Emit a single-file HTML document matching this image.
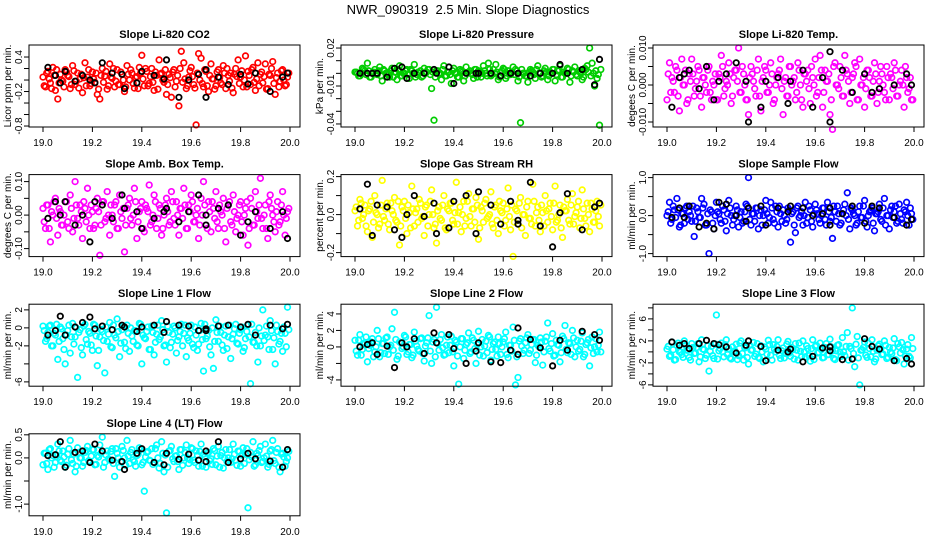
<!DOCTYPE html>
<html><head><meta charset="utf-8">
<style>
html,body{margin:0;padding:0;background:#fff;}
svg{display:block;font-family:"Liberation Sans",Arial,sans-serif;}
</style></head>
<body>
<svg id="chart" width="936" height="540" viewBox="0 0 936 540">
<text x="468" y="14" text-anchor="middle" font-size="13">NWR_090319&#160; 2.5 Min. Slope Diagnostics</text>
</svg>
<script>
// shared time axes
const times = [19.00,19.01,19.02,19.03,19.04,19.05,19.06,19.07,19.08,19.09,19.10,19.11,19.12,19.13,19.14,19.15,19.16,19.17,19.18,19.19,19.20,19.21,19.22,19.23,19.24,19.25,19.26,19.27,19.28,19.29,19.30,19.31,19.32,19.33,19.34,19.35,19.36,19.37,19.38,19.39,19.40,19.41,19.42,19.43,19.44,19.45,19.46,19.47,19.48,19.49,19.50,19.51,19.52,19.53,19.54,19.55,19.56,19.57,19.58,19.59,19.60,19.61,19.62,19.63,19.64,19.65,19.66,19.67,19.68,19.69,19.70,19.71,19.72,19.73,19.74,19.75,19.76,19.77,19.78,19.79,19.80,19.81,19.82,19.83,19.84,19.85,19.86,19.87,19.88,19.89,19.90,19.91,19.92,19.93,19.94,19.95,19.96,19.97,19.98,19.99];
const times2 = [19.005,19.015,19.025,19.035,19.045,19.055,19.065,19.075,19.085,19.095,19.105,19.115,19.125,19.135,19.145,19.155,19.165,19.175,19.185,19.195,19.205,19.215,19.225,19.235,19.245,19.255,19.265,19.275,19.285,19.295,19.305,19.315,19.325,19.335,19.345,19.355,19.365,19.375,19.385,19.395,19.405,19.415,19.425,19.435,19.445,19.455,19.465,19.475,19.485,19.495,19.505,19.515,19.525,19.535,19.545,19.555,19.565,19.575,19.585,19.595,19.605,19.615,19.625,19.635,19.645,19.655,19.665,19.675,19.685,19.695,19.705,19.715,19.725,19.735,19.745,19.755,19.765,19.775,19.785,19.795,19.805,19.815,19.825,19.835,19.845,19.855,19.865,19.875,19.885,19.895,19.905,19.915,19.925,19.935,19.945,19.955,19.965,19.975,19.985,19.995];
const blackTimes = [19.02,19.05,19.07,19.09,19.13,19.16,19.19,19.21,19.24,19.28,19.32,19.33,19.38,19.40,19.45,19.49,19.50,19.55,19.59,19.63,19.66,19.66,19.71,19.75,19.80,19.83,19.86,19.92,19.97,19.99];
const xTicks = [19.0,19.2,19.4,19.6,19.8,20.0];
const xTickLabels = ["19.0","19.2","19.4","19.6","19.8","20.0"];

const co2Vals = [0.05,-0.12,0.15,-0.05,0.22,-0.18,-0.33,0.10,-0.02,0.18,0.08,-0.15,0.25,-0.08,0.12,0.02,-0.22,0.30,0.05,-0.10,0.14,-0.04,-0.25,-0.33,0.20,0.07,-0.16,0.28,0.03,-0.12,0.18,-0.08,0.10,-0.20,0.25,0.00,0.12,-0.14,0.06,0.22,0.43,-0.10,0.15,-0.06,0.20,-0.18,0.08,0.35,0.12,-0.04,-0.25,0.10,-0.30,0.18,-0.02,-0.45,0.50,0.30,-0.15,0.05,0.22,-0.08,-0.78,0.46,0.38,-0.12,0.15,-0.20,0.28,0.02,-0.10,0.18,-0.05,0.25,-0.15,0.08,0.12,-0.22,0.20,0.35,0.05,-0.12,0.42,0.15,-0.08,0.22,-0.18,0.30,0.10,-0.05,0.28,-0.15,0.08,0.32,-0.25,0.12,-0.02,0.18,-0.10,0.05];
const co2Vals2 = [-0.10,0.12,0.02,-0.15,0.08,0.18,-0.05,0.00,-0.12,0.14,0.06,-0.08,0.16,-0.02,-0.14,0.10,0.04,-0.10,0.18,-0.06,0.02,0.12,-0.16,0.08,-0.04,0.15,-0.10,0.05,0.20,-0.02,-0.08,0.14,0.00,-0.12,0.10,0.18,-0.06,0.04,-0.15,0.12,0.02,0.20,-0.10,0.06,-0.04,0.14,-0.16,0.10,0.00,0.18,-0.08,0.04,0.14,-0.12,0.08,0.20,-0.04,0.02,-0.10,0.16,0.06,-0.14,0.12,0.00,-0.06,0.18,-0.10,0.08,0.02,-0.16,0.14,0.04,-0.08,0.12,0.20,-0.02,-0.14,0.10,0.06,-0.06,0.16,0.00,-0.12,0.08,0.18,-0.04,0.02,-0.10,0.14,0.06,-0.16,0.10,0.20,-0.06,0.04,-0.12,0.16,0.00,-0.08,0.12];
const co2Black = [0.22,0.08,-0.05,0.15,-0.02,0.08,0.00,-0.05,0.30,0.12,0.10,-0.15,-0.05,0.15,0.08,0.02,0.35,-0.30,0.00,0.10,0.18,-0.30,0.05,-0.08,0.10,-0.07,0.12,-0.20,0.05,0.12];
const pressVals = [0.001,0.000,-0.002,0.004,0.002,0.008,-0.003,0.000,0.003,-0.001,0.005,-0.006,0.002,0.000,-0.003,0.004,0.001,-0.005,0.006,-0.002,0.000,0.003,-0.004,0.002,0.007,-0.001,0.000,-0.003,0.004,0.001,0.003,-0.012,-0.037,0.002,0.000,-0.005,0.006,-0.002,0.001,-0.008,0.004,0.000,-0.003,0.002,-0.006,0.005,0.001,0.000,-0.004,0.003,0.002,-0.003,0.006,0.000,0.008,-0.002,0.003,0.007,-0.005,0.001,0.004,-0.004,0.002,-0.001,0.005,0.003,-0.006,-0.039,0.000,-0.002,-0.007,0.003,0.001,-0.004,0.006,0.000,-0.002,0.004,-0.005,0.001,0.003,-0.006,0.002,0.006,-0.003,0.000,0.004,-0.007,0.002,0.005,-0.002,0.001,-0.005,0.004,0.006,0.020,0.008,-0.010,-0.004,-0.041];
const pressVals2 = [0.001,-0.002,0.000,0.003,-0.001,0.002,-0.003,0.001,0.000,0.002,-0.002,0.003,0.000,-0.001,0.002,-0.003,0.001,0.003,-0.002,0.000,0.002,-0.001,0.003,0.000,-0.003,0.001,0.002,-0.002,0.000,0.003,-0.001,0.001,-0.003,0.002,0.000,0.003,-0.002,0.001,-0.001,0.002,0.000,-0.003,0.003,0.001,-0.002,0.000,0.002,-0.001,0.003,-0.003,0.001,0.000,0.002,-0.002,0.003,-0.001,0.000,0.001,-0.003,0.002,0.003,-0.002,0.000,0.001,-0.001,0.002,-0.003,0.003,0.000,-0.002,0.001,0.002,-0.001,0.003,0.000,-0.003,0.002,0.001,-0.002,0.000,0.003,-0.001,0.002,-0.003,0.001,0.000,0.003,-0.002,0.001,-0.001,0.002,0.000,-0.003,0.003,0.001,-0.002,0.000,0.002,-0.001,0.003];
const pressBlack = [0.000,0.000,0.000,0.000,-0.003,0.004,0.005,-0.004,0.000,0.000,0.003,0.000,0.005,-0.008,0.000,0.000,0.000,0.000,-0.002,0.000,0.000,0.000,-0.002,0.000,0.000,0.007,0.000,0.003,-0.009,0.011];
const tempVals = [-0.004,0.006,0.002,-0.002,0.004,-0.007,0.007,0.000,-0.005,0.003,0.007,-0.003,0.001,0.004,-0.006,0.002,-0.002,0.005,-0.004,0.000,-0.004,0.003,0.008,-0.003,0.001,0.006,-0.005,0.002,0.004,0.010,-0.002,0.003,-0.004,-0.008,0.005,0.001,-0.003,0.007,-0.007,0.002,0.004,-0.002,0.006,-0.005,0.000,0.003,0.007,-0.008,0.002,-0.003,0.005,0.001,-0.004,0.006,0.000,-0.006,0.003,0.004,-0.005,0.002,0.007,-0.002,0.008,-0.006,0.004,0.001,-0.008,-0.012,0.006,0.000,0.005,-0.003,0.008,0.003,-0.005,0.002,0.006,-0.004,0.007,0.000,-0.006,0.004,0.002,-0.003,0.006,-0.005,0.001,0.003,-0.002,0.005,-0.004,0.002,0.006,-0.003,0.000,0.004,-0.006,0.002,-0.001,-0.004];
const tempVals2 = [0.003,-0.002,0.001,0.005,-0.003,0.002,0.000,0.004,-0.004,0.001,0.003,-0.001,0.005,-0.003,0.002,0.000,0.004,-0.002,0.001,0.003,-0.004,0.002,0.005,-0.001,0.000,0.003,-0.003,0.004,0.001,-0.002,0.005,0.000,-0.004,0.002,0.003,-0.001,0.004,-0.003,0.001,0.005,-0.002,0.000,0.003,-0.004,0.002,0.004,-0.001,0.001,-0.003,0.005,0.000,0.002,-0.002,0.004,-0.004,0.003,0.001,-0.001,0.005,0.000,-0.003,0.002,0.004,-0.002,0.001,0.003,-0.004,0.005,0.000,-0.001,0.002,-0.003,0.004,0.001,-0.002,0.003,0.005,-0.004,0.000,0.002,-0.001,0.004,-0.003,0.001,0.003,-0.002,0.005,0.000,-0.004,0.002,0.003,-0.001,0.004,-0.003,0.001,0.000,0.005,-0.002,0.002,-0.004];
const tempBlack = [-0.006,0.002,0.003,0.004,-0.001,0.005,-0.004,0.001,0.003,0.006,0.001,-0.010,-0.006,0.001,0.002,-0.005,0.001,0.004,-0.006,0.002,0.009,-0.010,0.004,-0.002,0.003,-0.002,-0.001,0.000,0.003,0.000];
const ambVals = [0.02,-0.04,0.03,-0.08,0.00,0.05,-0.06,0.01,-0.03,0.04,-0.02,0.06,-0.05,0.10,-0.01,0.03,-0.07,0.02,0.08,-0.04,0.01,-0.03,0.05,-0.12,0.04,-0.02,0.07,-0.06,0.00,0.03,-0.04,0.06,-0.01,-0.11,0.02,0.05,-0.03,0.08,-0.07,0.01,0.04,-0.05,0.02,0.09,-0.02,0.06,-0.04,0.03,-0.06,0.00,0.05,-0.03,0.07,-0.01,0.04,-0.06,0.02,0.08,-0.04,0.03,0.06,-0.02,0.00,-0.07,0.05,0.10,-0.03,0.04,-0.05,0.02,0.07,-0.04,0.01,0.05,-0.08,0.03,-0.02,0.06,-0.05,0.00,0.04,-0.06,0.02,-0.09,0.05,-0.03,0.07,-0.01,0.11,-0.04,0.03,-0.07,0.06,0.00,-0.05,0.04,-0.02,0.07,-0.06,0.01];
const ambVals2 = [-0.02,0.03,-0.04,0.01,0.04,-0.01,0.02,-0.03,0.00,0.04,-0.04,0.02,-0.01,0.03,-0.03,0.01,0.04,-0.02,0.00,0.03,-0.04,0.02,0.01,-0.03,0.04,-0.01,0.00,0.03,-0.02,0.04,-0.04,0.01,0.02,-0.03,0.03,-0.01,0.00,0.04,-0.02,0.02,-0.04,0.03,0.01,-0.03,0.00,0.04,-0.01,0.02,-0.04,0.03,0.01,-0.02,0.04,-0.03,0.00,0.02,-0.01,0.03,-0.04,0.01,0.04,-0.02,0.02,-0.03,0.00,0.03,-0.04,0.01,0.04,-0.01,-0.02,0.03,0.00,-0.04,0.02,0.04,-0.03,0.01,-0.01,0.03,-0.02,0.00,0.04,-0.04,0.02,-0.03,0.01,0.03,-0.01,0.00,-0.04,0.04,0.02,-0.02,0.01,-0.03,0.03,0.00,-0.01,0.02];
const ambBlack = [-0.01,0.04,0.00,0.04,-0.03,0.00,-0.08,0.04,0.03,-0.01,0.06,0.02,0.01,-0.04,-0.01,0.01,0.02,-0.02,0.01,0.06,0.00,-0.03,0.02,0.03,-0.06,-0.02,0.01,-0.04,0.01,-0.07];
const rhVals = [0.02,-0.06,0.08,-0.02,0.05,-0.09,0.03,-0.12,0.10,0.00,-0.05,0.18,-0.03,0.06,-0.08,0.02,0.09,-0.04,-0.16,0.04,0.07,-0.10,0.01,0.15,-0.06,0.03,0.08,-0.02,-0.11,0.05,0.00,0.13,-0.07,-0.15,0.04,-0.03,0.10,-0.08,0.02,0.06,-0.05,0.17,0.01,-0.09,0.07,-0.02,0.11,-0.06,0.03,0.09,-0.13,0.04,-0.04,0.08,-0.01,0.12,-0.07,0.05,-0.10,0.02,0.06,-0.03,0.14,-0.08,-0.22,0.03,-0.05,0.09,0.00,-0.11,0.07,-0.02,0.16,-0.06,0.04,-0.09,0.01,0.10,-0.04,0.06,-0.08,0.15,-0.03,0.05,-0.12,0.02,0.08,-0.05,0.11,-0.01,0.04,-0.07,0.13,-0.02,0.06,-0.09,0.03,-0.04,0.07,-0.06];
const rhVals2 = [0.04,-0.03,0.06,0.00,-0.06,0.02,0.07,-0.04,0.01,-0.07,0.05,-0.01,0.03,-0.05,0.06,0.00,-0.03,0.07,-0.06,0.02,-0.02,0.05,-0.07,0.03,0.01,-0.04,0.06,-0.01,0.04,-0.06,0.07,0.00,-0.05,0.02,-0.02,0.05,-0.07,0.03,0.06,-0.03,0.01,-0.05,0.04,0.00,-0.06,0.07,-0.01,0.03,-0.04,0.05,-0.07,0.02,0.06,-0.02,0.00,-0.05,0.04,-0.03,0.07,0.01,-0.06,0.03,-0.01,0.05,-0.04,0.02,0.06,-0.07,0.00,0.04,-0.02,-0.05,0.07,0.01,-0.03,0.05,-0.06,0.02,0.03,-0.01,0.06,-0.04,0.00,-0.07,0.04,0.02,-0.03,0.05,-0.05,0.01,0.07,-0.02,0.03,-0.06,0.00,0.06,-0.04,0.02,-0.01,0.05];
const rhBlack = [0.03,0.16,-0.11,0.05,0.04,-0.08,-0.12,0.00,0.10,-0.01,0.06,-0.10,-0.07,0.07,0.10,-0.10,0.12,0.05,-0.05,0.07,-0.03,-0.05,0.17,-0.06,-0.17,0.01,0.11,-0.08,0.04,0.06];
const sampleVals = [0.00,0.35,-0.10,0.15,0.45,-0.30,0.05,-0.20,0.25,0.10,-0.15,-0.55,0.20,-0.05,0.45,0.30,-0.25,-1.00,0.10,-0.35,0.35,0.05,-0.20,0.15,-0.40,0.40,0.00,-0.10,0.25,-0.30,0.10,-0.15,0.30,1.00,-0.25,0.05,0.20,-0.35,0.15,0.00,0.40,-0.20,0.35,-0.10,0.25,-0.30,0.05,0.15,-0.20,0.20,-0.70,0.10,-0.45,0.25,0.00,-0.25,0.35,-0.05,0.15,-0.30,0.30,0.05,-0.20,0.20,-0.10,0.35,-0.15,-0.60,0.10,0.25,-0.25,0.05,0.30,0.60,-0.35,0.15,0.00,-0.20,0.25,-0.05,0.40,-0.30,0.10,0.20,-0.40,0.05,0.30,-0.15,0.45,0.00,-0.35,0.25,0.10,-0.20,0.30,-0.10,0.15,0.35,-0.25,0.05];
const sampleVals2 = [0.10,-0.20,0.25,-0.05,0.15,-0.25,0.05,0.20,-0.10,0.00,0.25,-0.15,0.10,-0.05,0.20,-0.25,0.05,0.15,-0.20,0.00,0.10,-0.10,0.25,-0.15,0.05,0.20,-0.25,0.00,0.15,-0.05,-0.20,0.10,0.25,-0.10,0.05,-0.15,0.20,0.00,-0.25,0.15,0.05,-0.05,0.20,-0.20,0.10,0.25,-0.15,0.00,-0.10,0.15,0.05,-0.25,0.20,-0.05,0.10,0.00,-0.20,0.25,-0.15,0.05,0.15,-0.10,0.00,0.20,-0.25,0.10,-0.05,0.25,-0.15,0.05,-0.20,0.15,0.00,-0.10,0.20,0.05,-0.25,0.10,-0.05,0.25,-0.15,0.00,0.15,-0.20,0.05,0.10,-0.10,0.20,-0.25,0.00,0.15,-0.05,0.25,-0.15,0.05,-0.20,0.10,0.00,0.20,-0.10];
const sampleBlack = [-0.05,0.20,-0.05,0.25,-0.30,-0.20,-0.35,0.35,0.30,0.00,-0.15,0.20,0.25,-0.25,0.20,0.10,0.25,0.20,0.00,0.05,0.20,-0.25,0.05,0.25,-0.20,0.25,0.20,-0.05,-0.25,-0.10];
const line1Vals = [0.2,-1.5,-0.5,0.3,-2.0,-0.8,-3.5,0.1,-1.2,-4.0,-0.3,-2.8,0.5,-1.0,-5.5,-0.2,-3.0,0.4,-1.8,-0.6,-2.5,0.3,-4.2,-1.0,-0.4,-5.0,-1.5,0.6,-2.2,-0.8,1.0,-3.2,-0.2,-1.6,0.3,-2.6,-0.9,-0.3,-1.9,0.5,-4.0,-1.1,-0.4,-2.4,0.2,-3.0,-0.7,-1.3,0.8,-2.0,-3.8,-0.5,-1.6,0.2,-2.8,-1.0,0.4,-0.6,-3.2,-1.4,0.3,-2.2,-0.8,-1.8,0.5,-4.8,-1.2,-0.3,-3.0,-4.5,0.9,-1.5,-0.5,-2.5,0.2,-1.0,-3.4,-0.7,0.4,-1.8,-0.2,-2.6,-1.2,0.3,-6.2,-1.6,-0.5,-3.8,-2.0,2.0,-0.8,-1.0,0.8,-2.4,-4.0,-0.4,-1.5,-2.6,-0.6,2.3];
const line1Vals2 = [-0.3,-1.2,0.2,-2.0,-0.6,0.4,-1.5,-0.1,-2.4,-0.8,0.3,-1.0,-1.8,0.0,-0.5,-2.2,0.2,-1.3,-0.4,-1.9,0.4,-0.9,-2.5,-0.2,-1.4,0.1,-0.7,-2.1,0.3,-1.1,-0.4,-1.7,0.2,-2.3,-0.6,0.0,-1.5,-0.3,-2.0,0.4,-0.8,-1.2,0.1,-2.4,-0.5,-1.6,0.3,-1.0,-0.2,-1.9,0.2,-2.2,-0.7,0.0,-1.4,-0.4,-2.0,0.3,-1.1,-0.6,-1.8,0.1,-2.5,-0.3,-1.3,0.4,-0.9,-2.1,0.0,-1.5,-0.5,0.2,-1.9,-0.8,-2.3,0.3,-1.2,-0.1,-1.7,-0.6,0.1,-2.2,-0.4,-1.0,0.4,-1.6,-2.0,0.0,-0.9,-1.4,0.2,-2.4,-0.3,-1.1,0.3,-1.8,-0.6,0.1,-2.1,-0.2];
const line1Black = [-0.8,-0.3,1.3,-0.8,0.1,0.6,1.2,-0.1,0.2,-0.2,0.3,0.1,-0.4,0.1,0.3,-0.5,0.7,0.3,0.2,-0.3,-0.3,-0.1,0.2,0.3,0.1,0.4,-0.8,0.3,-0.1,0.4];
const line2Vals = [0.8,-1.0,1.5,-0.3,0.5,-1.8,0.2,1.0,-0.6,2.0,-1.2,0.4,-0.8,1.2,0.0,2.2,4.2,-1.5,0.6,-0.2,1.4,-0.9,0.3,-1.3,1.8,0.1,-0.5,1.1,-1.7,0.5,3.8,-2.0,0.9,4.8,-0.4,1.5,-1.0,0.2,-0.7,1.3,-2.3,0.6,-4.5,1.0,-1.4,0.3,1.7,-0.6,0.8,-2.0,1.9,0.0,-1.1,0.7,1.4,-1.6,0.4,-0.3,1.2,-0.9,0.6,1.8,-1.3,0.2,2.4,-4.6,-3.7,1.0,-0.8,0.5,1.5,-0.4,0.9,-1.9,0.2,1.1,-2.2,0.7,2.9,-0.5,1.6,-1.0,0.3,-1.8,1.3,2.6,-0.7,0.4,2.0,-1.2,0.8,-0.3,1.7,-0.9,0.5,-2.3,1.2,0.0,-0.6,1.8];
const line2Vals2 = [-0.5,0.8,-1.0,0.3,1.2,-0.2,0.6,-1.2,0.0,1.0,-0.7,0.4,1.1,-0.9,0.2,-0.4,0.9,-1.1,0.5,0.0,1.2,-0.6,0.3,-1.0,0.7,-0.3,1.0,-0.8,0.1,1.1,-0.5,0.6,-1.2,0.4,0.9,-0.1,-0.9,1.2,0.2,-0.6,0.8,-1.1,0.0,1.0,-0.4,0.5,-0.8,1.1,-0.2,0.3,-1.0,0.9,0.1,-0.7,1.2,-0.3,0.6,-1.1,0.4,0.0,1.0,-0.9,0.2,-0.5,0.8,-1.2,0.7,0.1,-0.4,1.1,-0.8,0.3,0.9,-1.0,0.0,0.6,-0.6,1.2,-0.2,0.4,-1.1,0.8,0.2,-0.7,1.0,-0.3,0.5,-0.9,1.1,0.0,-0.5,0.7,-1.2,0.3,0.9,-0.1,-0.8,1.0,0.2,-0.6];
const line2Black = [0.0,0.3,0.5,-0.9,0.1,-2.5,0.5,0.0,1.0,-0.8,1.7,0.5,1.5,-0.2,-2.0,-0.5,0.5,-1.8,-1.9,-0.4,2.3,-0.9,0.9,-0.1,-2.3,0.8,-0.4,1.9,1.5,0.8];
const line3Vals = [0.5,-0.8,1.8,-1.5,1.2,0.0,-0.5,2.0,0.3,-1.0,1.5,-0.3,0.8,-1.8,2.2,0.4,-0.6,-3.5,1.0,-1.2,6.7,0.2,1.6,-0.9,2.2,0.6,-1.3,0.0,1.4,-0.7,2.0,-1.5,0.9,-2.2,0.3,1.7,-0.4,-1.0,1.1,-1.8,0.5,2.1,-0.6,1.3,0.0,2.2,-1.2,0.7,-0.3,1.9,-0.8,0.4,1.5,-1.5,0.1,2.0,-0.9,0.6,-1.7,2.2,1.0,-0.2,1.6,-1.1,0.8,-0.5,2.3,0.2,-1.4,1.2,0.0,2.6,-0.7,3.5,1.0,8.0,-2.7,2.8,-6.0,0.4,1.8,-1.0,0.6,2.2,-1.8,0.3,1.4,-0.5,2.0,-1.2,0.8,-0.3,2.4,-1.6,0.9,1.7,-2.2,0.5,-0.8,2.6];
const line3Vals2 = [1.0,-0.6,0.4,-1.4,1.6,0.0,-1.0,1.2,0.3,-1.5,0.8,-0.2,1.5,-0.9,0.5,-1.2,1.1,0.1,-0.7,1.4,-1.3,0.6,0.0,1.3,-0.5,-1.1,0.9,0.2,-1.4,1.6,-0.3,0.7,-1.0,1.2,0.4,-0.8,1.5,-1.2,0.0,0.9,-0.4,1.3,-1.5,0.5,1.0,-0.6,0.2,-1.1,1.4,-0.2,0.8,-1.3,0.3,1.6,-0.9,0.0,1.1,-0.7,0.6,-1.4,1.2,-0.1,0.4,-1.0,1.5,-0.5,0.9,-1.2,0.2,1.3,-0.8,0.0,1.0,-1.5,0.6,-0.3,1.4,-1.1,0.3,0.8,-0.6,1.6,-0.9,0.1,-1.3,1.1,0.5,-0.4,1.2,-1.0,0.0,0.7,-1.4,1.5,-0.2,0.4,-0.8,1.3,-1.1,0.6];
const line3Black = [1.8,1.2,1.5,0.6,1.5,2.1,1.5,1.3,0.9,-0.2,1.2,2.0,1.0,-1.6,0.3,0.0,0.5,-1.8,-0.8,0.7,0.2,0.9,-1.4,-1.3,2.4,1.0,0.5,-1.6,-1.2,-2.2];
const line4Vals = [-0.15,0.10,-0.25,0.20,0.05,-0.10,0.30,-0.05,0.15,-0.20,0.08,0.38,-0.12,-0.30,0.22,0.00,-0.18,0.12,0.25,-0.08,0.18,-0.15,0.05,0.28,0.45,-0.10,0.15,-0.05,0.20,-0.40,0.10,-0.20,0.25,0.00,0.38,-0.12,0.18,-0.08,0.05,0.22,-0.15,-0.72,0.12,-0.05,0.20,-0.10,0.28,-0.22,0.35,-0.30,-1.19,0.15,0.25,-0.08,0.05,-0.25,0.18,0.00,0.28,-0.12,0.22,-0.05,0.15,-0.18,0.30,0.08,-0.20,0.12,-0.02,0.20,-0.15,0.25,0.05,-0.22,0.18,0.00,-0.10,0.30,-0.05,0.15,-0.18,0.22,0.08,-1.08,0.12,0.35,-0.15,0.05,0.25,-0.08,0.30,-0.20,0.15,0.38,-0.12,0.20,-0.30,0.10,-0.18,0.00];
const line4Vals2 = [0.10,-0.12,0.18,0.00,-0.20,0.06,0.15,-0.08,0.02,-0.16,0.20,-0.04,0.08,-0.18,0.12,0.00,-0.10,0.16,-0.06,0.04,0.18,-0.14,0.02,0.10,-0.20,0.06,-0.02,0.14,-0.12,0.20,0.00,-0.08,0.16,-0.16,0.04,0.12,-0.04,-0.18,0.08,0.18,-0.10,0.02,0.14,-0.06,-0.14,0.20,0.00,-0.12,0.10,0.06,-0.20,0.16,-0.02,0.04,-0.08,0.18,-0.16,0.12,0.00,-0.04,0.20,-0.10,0.06,0.14,-0.18,0.02,0.10,-0.06,-0.14,0.16,0.04,-0.20,0.12,0.00,-0.08,0.18,-0.02,0.08,-0.16,0.14,0.06,-0.12,0.20,-0.04,0.02,-0.18,0.10,0.16,-0.10,0.00,0.04,-0.14,0.18,-0.06,0.12,-0.20,0.08,0.02,-0.08,0.14];
const line4Black = [0.05,0.07,0.35,-0.20,0.12,0.15,-0.10,0.30,0.15,-0.05,-0.08,-0.25,0.10,0.20,-0.10,-0.15,0.10,-0.03,0.08,-0.05,0.15,-0.08,0.35,-0.10,-0.02,0.10,-0.02,-0.07,-0.20,0.18];

const co2Ticks=[-0.8,-0.6,-0.4,-0.2,0,0.2,0.4], co2Labels=["-0.8","","","-0.2","","","0.4"];
const pressTicks=[-0.04,-0.03,-0.02,-0.01,0,0.01,0.02], pressLabels=["-0.04","","","-0.01","","","0.02"];
const tempTicks=[-0.01,-0.005,0,0.005,0.01], tempLabels=["-0.010","","0.000","","0.010"];
const ambTicks=[-0.1,-0.05,0,0.05,0.1], ambLabels=["-0.10","","0.00","","0.10"];
const rhTicks=[-0.2,-0.1,0,0.1,0.2], rhLabels=["-0.2","","0.0","","0.2"];
const sampleTicks=[-1,-0.5,0,0.5,1], sampleLabels=["-1.0","","0.0","","1.0"];
const line1Ticks=[-6,-4,-2,0,2], line1Labels=["-6","","-2","0","2"];
const line2Ticks=[-4,-2,0,2,4], line2Labels=["-4","","0","2","4"];
const line3Ticks=[-6,-4,-2,0,2,4,6,8], line3Labels=["-6","","-2","","2","","6",""];
const line4Ticks=[-1,-0.5,0,0.5], line4Labels=["-1.0","","0.0","0.5"];

const panels = [
 {name:"co2",title:"Slope Li-820 CO2",ylab:"Licor ppm per min.",col:"#ff0000",c:0,r:0,lim:[-0.817,0.609],v:co2Vals,v2:co2Vals2,b:co2Black,t:co2Ticks,l:co2Labels},
 {name:"pressure",title:"Slope Li-820 Pressure",ylab:"kPa per min.",col:"#00cd00",c:1,r:0,lim:[-0.0424,0.0224],v:pressVals,v2:pressVals2,b:pressBlack,t:pressTicks,l:pressLabels},
 {name:"temp",title:"Slope Li-820 Temp.",ylab:"degees C per min.",col:"#ff00ff",c:2,r:0,lim:[-0.01135,0.01081],v:tempVals,v2:tempVals2,b:tempBlack,t:tempTicks,l:tempLabels},
 {name:"amb-box-temp",title:"Slope Amb. Box Temp.",ylab:"degrees C per min.",col:"#ff00ff",c:0,r:1,lim:[-0.1239,0.1209],v:ambVals,v2:ambVals2,b:ambBlack,t:ambTicks,l:ambLabels},
 {name:"gas-stream-rh",title:"Slope Gas Stream RH",ylab:"percent per min.",col:"#ffff00",c:1,r:1,lim:[-0.2211,0.2105],v:rhVals,v2:rhVals2,b:rhBlack,t:rhTicks,l:rhLabels},
 {name:"sample-flow",title:"Slope Sample Flow",ylab:"ml/min per min.",col:"#0000ff",c:2,r:1,lim:[-1.079,1.079],v:sampleVals,v2:sampleVals2,b:sampleBlack,t:sampleTicks,l:sampleLabels},
 {name:"line1-flow",title:"Slope Line 1 Flow",ylab:"ml/min per min.",col:"#00ffff",c:0,r:2,lim:[-6.48,2.63],v:line1Vals,v2:line1Vals2,b:line1Black,t:line1Ticks,l:line1Labels},
 {name:"line2-flow",title:"Slope Line 2 Flow",ylab:"ml/min per min.",col:"#00ffff",c:1,r:2,lim:[-4.76,5.18],v:line2Vals,v2:line2Vals2,b:line2Black,t:line2Ticks,l:line2Labels},
 {name:"line3-flow",title:"Slope Line 3 Flow",ylab:"ml/min per min.",col:"#00ffff",c:2,r:2,lim:[-6.24,8.67],v:line3Vals,v2:line3Vals2,b:line3Black,t:line3Ticks,l:line3Labels},
 {name:"line4-flow",title:"Slope Line 4 (LT) Flow",ylab:"ml/min per min.",col:"#00ffff",c:0,r:3,lim:[-1.253,0.522],v:line4Vals,v2:line4Vals2,b:line4Black,t:line4Ticks,l:line4Labels}
];

const NS="http://www.w3.org/2000/svg";
const svg=document.getElementById("chart");
function mk(tag,attrs,parent){const e=document.createElementNS(NS,tag);for(const k in attrs)e.setAttribute(k,attrs[k]);parent.appendChild(e);return e;}

panels.forEach(p=>{
  const x0=29+p.c*312, top=45+p.r*129.6, W=271, H=82, bottom=top+H;
  const xs=v=>x0+14+(v-19)*247;
  const ys=v=>bottom-(v-p.lim[0])/(p.lim[1]-p.lim[0])*H;
  const g=mk("g",{},svg);
  
  
  const tt=mk("text",{x:x0+W/2,y:top-7,"text-anchor":"middle","font-size":"11","font-weight":"bold"},g);
  tt.textContent=p.title;
  
  
  const yl=mk("text",{x:0,y:0,"text-anchor":"middle","font-size":"10",transform:`translate(${x0-18},${top+H/2}) rotate(-90)`},g);
  yl.textContent=p.ylab;
  
  
  const pts=mk("g",{fill:"none",stroke:p.col,"stroke-width":"1.7"},g);
  
  
  p.v2.forEach((v,i)=>{
    const c=mk("circle",{cx:xs(times2[i]).toFixed(1),cy:ys(v).toFixed(1),r:"2.8"},pts);
    
    
  });
  p.v.forEach((v,i)=>{
    const c=mk("circle",{cx:xs(times[i]).toFixed(1),cy:ys(v).toFixed(1),r:"2.8"},pts);
    
    
  });
  const bp=mk("g",{fill:"none",stroke:"#000","stroke-width":"1.8"},g);
  
  
  p.b.forEach((v,i)=>{
    const c=mk("circle",{cx:xs(blackTimes[i]).toFixed(1),cy:ys(v).toFixed(1),r:"2.7"},bp);
    
    
  });
  const box=mk("rect",{x:x0,y:top,width:W,height:H,fill:"none",stroke:"#000","stroke-width":"1"},g);
  
  
  const xa=mk("g",{stroke:"#000","stroke-width":"1"},g);
  
  
  xTicks.forEach((v,i)=>{
    mk("line",{x1:xs(v),x2:xs(v),y1:bottom,y2:bottom+5},xa);
    const t=mk("text",{x:xs(v),y:bottom+19,"text-anchor":"middle","font-size":"10",stroke:"none"},xa);
    t.textContent=xTickLabels[i];
    
    
  });
  const ya=mk("g",{stroke:"#000","stroke-width":"1"},g);
  
  
  mk("line",{x1:x0,x2:x0,y1:ys(p.t[0]),y2:ys(p.t[p.t.length-1])},ya);
  p.t.forEach((v,i)=>{
    mk("line",{x1:x0-5,x2:x0,y1:ys(v),y2:ys(v)},ya);
    if(p.l[i]){
      const t=mk("text",{x:0,y:0,"text-anchor":"middle","font-size":"10",stroke:"none",transform:`translate(${x0-7},${ys(v)}) rotate(-90)`},ya);
      t.textContent=p.l[i];
      
      
    }
  });
});
</script>
</body></html>
